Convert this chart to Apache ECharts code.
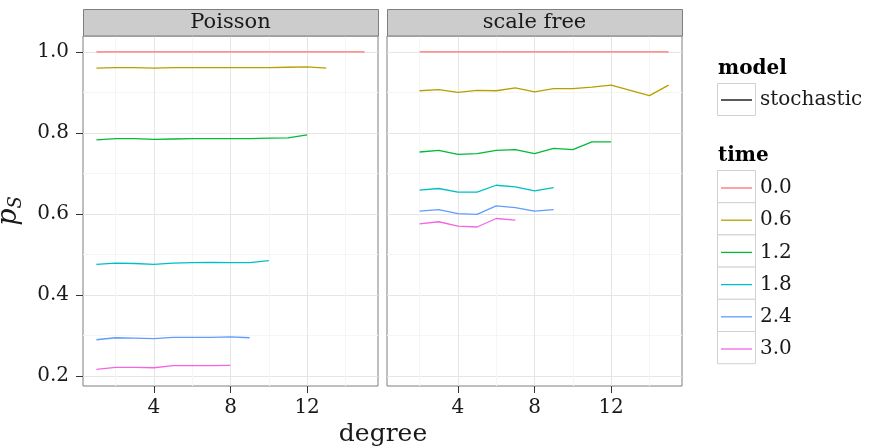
<!DOCTYPE html>
<html><head><meta charset="utf-8">
<script src="https://cdn.jsdelivr.net/npm/echarts@6/dist/echarts.min.js"></script>
<style>html,body{margin:0;padding:0;background:#fff}#c{width:869px;height:447px}</style>
</head><body><div id="c"></div>
<script>
// ---- data ----
const panels = ['Poisson', 'scale free'];
const timeLevels = ['0.0', '0.6', '1.2', '1.8', '2.4', '3.0'];
const timeColors = ['#F8766D', '#B79F00', '#00BA38', '#00BFC4', '#619CFF', '#F564E3'];
const modelLevels = ['stochastic'];
const xTicks = [4, 8, 12];
const xMinor = [2, 6, 10, 14];
const yTicks = [0.2, 0.4, 0.6, 0.8, 1.0];
const yMinor = [0.3, 0.5, 0.7, 0.9];

// Poisson: degrees start at 1
const poissonStartDegree = 1;
const poisson_t00 = [1.0, 1.0, 1.0, 1.0, 1.0, 1.0, 1.0, 1.0, 1.0, 1.0, 1.0, 1.0, 1.0, 1.0, 1.0];
const poisson_t06 = [0.960, 0.961, 0.961, 0.960, 0.961, 0.961, 0.961, 0.961, 0.961, 0.961, 0.962, 0.963, 0.960];
const poisson_t12 = [0.783, 0.786, 0.786, 0.784, 0.785, 0.786, 0.786, 0.786, 0.786, 0.787, 0.788, 0.795];
const poisson_t18 = [0.476, 0.479, 0.478, 0.476, 0.479, 0.480, 0.481, 0.480, 0.480, 0.485];
const poisson_t24 = [0.290, 0.295, 0.294, 0.293, 0.296, 0.296, 0.296, 0.297, 0.295];
const poisson_t30 = [0.217, 0.222, 0.222, 0.221, 0.226, 0.226, 0.226, 0.227];

// scale free: degrees start at 2
const scalefreeStartDegree = 2;
const scalefree_t00 = [1.0, 1.0, 1.0, 1.0, 1.0, 1.0, 1.0, 1.0, 1.0, 1.0, 1.0, 1.0, 1.0, 1.0];
const scalefree_t06 = [0.904, 0.907, 0.900, 0.905, 0.904, 0.911, 0.901, 0.909, 0.909, 0.913, 0.918, 0.905, 0.892, 0.918];
const scalefree_t12 = [0.753, 0.757, 0.747, 0.749, 0.757, 0.759, 0.749, 0.762, 0.759, 0.778, 0.778];
const scalefree_t18 = [0.659, 0.663, 0.654, 0.654, 0.671, 0.667, 0.657, 0.665];
const scalefree_t24 = [0.607, 0.611, 0.601, 0.599, 0.620, 0.616, 0.607, 0.611];
const scalefree_t30 = [0.576, 0.581, 0.570, 0.568, 0.589, 0.585];

const panelData = [
  { start: poissonStartDegree, series: [poisson_t00, poisson_t06, poisson_t12, poisson_t18, poisson_t24, poisson_t30] },
  { start: scalefreeStartDegree, series: [scalefree_t00, scalefree_t06, scalefree_t12, scalefree_t18, scalefree_t24, scalefree_t30] }
];

// ---- layout / style ----
const FONT = 'DejaVu Serif';
const gridLefts = [83, 387];
const gridTop = 36, gridW = 295, gridH = 350;
const xMin = 0.3, xMax = 15.7, yMin = 0.176, yMax = 1.039;

const grids = [], xAxes = [], yAxes = [], series = [], graphics = [];
panels.forEach((name, p) => {
  grids.push({ left: gridLefts[p], top: gridTop, width: gridW, height: gridH, show: true,
    containLabel: false, outerBoundsMode: 'none',
    backgroundColor: '#fff', borderColor: '#7F7F7F', borderWidth: 1 });
  // main x axis
  xAxes.push({ type: 'value', gridIndex: p, min: xMin, max: xMax, position: 'bottom',
    axisLine: { show: false },
    axisTick: { show: true, length: 7, lineStyle: { color: '#333', width: 1 }, customValues: xTicks },
    axisLabel: { show: true, customValues: xTicks, margin: 12, color: '#1a1a1a', fontFamily: FONT, fontSize: 20 },
    splitLine: { show: true, lineStyle: { color: '#E5E5E5', width: 1 } } });
  // minor x grid
  xAxes.push({ type: 'value', gridIndex: p, min: xMin, max: xMax, position: 'top',
    axisLine: { show: false }, axisTick: { show: false, customValues: xMinor },
    axisLabel: { show: false, customValues: xMinor },
    splitLine: { show: true, lineStyle: { color: '#F5F5F5', width: 1 } } });
  yAxes.push({ type: 'value', gridIndex: p, min: yMin, max: yMax, position: 'left',
    axisLine: { show: false },
    axisTick: { show: p === 0, length: 7, lineStyle: { color: '#333', width: 1 }, customValues: yTicks },
    axisLabel: { show: p === 0, customValues: yTicks, margin: 14, color: '#1a1a1a', fontFamily: FONT, fontSize: 20,
      formatter: v => v.toFixed(1) },
    splitLine: { show: true, lineStyle: { color: '#E5E5E5', width: 1 } },
    name: p === 0 ? '{p|p}{s|S}' : '', nameLocation: 'middle', nameRotate: 90, nameGap: 58,
    nameTextStyle: { rich: {
      p: { fontFamily: FONT, fontStyle: 'italic', fontSize: 27, color: '#1a1a1a', lineHeight: 32, verticalAlign: 'middle' },
      s: { fontFamily: FONT, fontStyle: 'italic', fontSize: 18, color: '#1a1a1a', lineHeight: 32, verticalAlign: 'bottom', padding: [10, 0, 0, 0] } } } });
  yAxes.push({ type: 'value', gridIndex: p, min: yMin, max: yMax, position: 'right',
    axisLine: { show: false }, axisTick: { show: false, customValues: yMinor },
    axisLabel: { show: false, customValues: yMinor },
    splitLine: { show: true, lineStyle: { color: '#F5F5F5', width: 1 } } });

  const pd = panelData[p];
  pd.series.forEach((vals, i) => {
    series.push({ type: 'line', name: timeLevels[i], xAxisIndex: p * 2, yAxisIndex: p * 2,
      data: vals.map((v, j) => [pd.start + j, v]), symbol: 'none', showSymbol: false,
      color: timeColors[i], lineStyle: { width: 1.3, color: timeColors[i] }, z: 3, animation: false });
  });

  // strip
  graphics.push({ type: 'rect', shape: { x: gridLefts[p] + 0.5, y: 9.5, width: gridW, height: 26.5 },
    style: { fill: '#CCCCCC', stroke: '#7F7F7F', lineWidth: 1 }, z: 10 });
  graphics.push({ type: 'text', x: gridLefts[p] + gridW / 2, y: 23,
    style: { text: name, fontFamily: FONT, fontSize: 21, fill: '#1a1a1a', align: 'center', verticalAlign: 'middle' }, z: 11 });
});

// model legend series (no data)
series.push({ type: 'line', name: modelLevels[0], xAxisIndex: 0, yAxisIndex: 0, data: [], color: '#000',
  symbol: 'none', lineStyle: { color: '#000' } });

// legend key boxes and titles
graphics.push({ type: 'text', x: 718, y: 69, style: { text: 'model', fontFamily: FONT, fontWeight: 'bold', fontSize: 20, fill: '#000', verticalAlign: 'middle' } });
graphics.push({ type: 'rect', shape: { x: 717.5, y: 83.5, width: 38, height: 32 }, style: { fill: '#fff', stroke: '#D0D0D0', lineWidth: 1 }, z: 0 });
graphics.push({ type: 'text', x: 718, y: 156, style: { text: 'time', fontFamily: FONT, fontWeight: 'bold', fontSize: 20, fill: '#000', verticalAlign: 'middle' } });
timeLevels.forEach((t, i) => {
  graphics.push({ type: 'rect', shape: { x: 717.5, y: 170.5 + i * 32.2, width: 38, height: 32.2 }, style: { fill: '#fff', stroke: '#D0D0D0', lineWidth: 1 }, z: 0 });
});
graphics.push({ type: 'text', x: 383, y: 434, style: { text: 'degree', fontFamily: FONT, fontSize: 25, fill: '#1a1a1a', align: 'center', verticalAlign: 'middle' } });

const legendText = { fontFamily: FONT, fontSize: 20, color: '#1a1a1a', lineHeight: 22, padding: [0, 0, 0, 3] };
const chart = echarts.init(document.getElementById('c'), null, { renderer: 'canvas' });
chart.setOption({
  animation: false,
  backgroundColor: '#fff',
  grid: grids, xAxis: xAxes, yAxis: yAxes, series: series,
  graphic: { elements: graphics },
  legend: [
    { data: modelLevels, orient: 'vertical', left: 721, top: 89, padding: 0, itemGap: 10,
      icon: 'rect', itemWidth: 31, itemHeight: 1.3, textStyle: legendText, selectedMode: false },
    { data: timeLevels, orient: 'vertical', left: 721, top: 177, padding: 0, itemGap: 10.2,
      icon: 'rect', itemWidth: 31, itemHeight: 1.3, textStyle: legendText, selectedMode: false }
  ]
});
</script>
</body></html>
